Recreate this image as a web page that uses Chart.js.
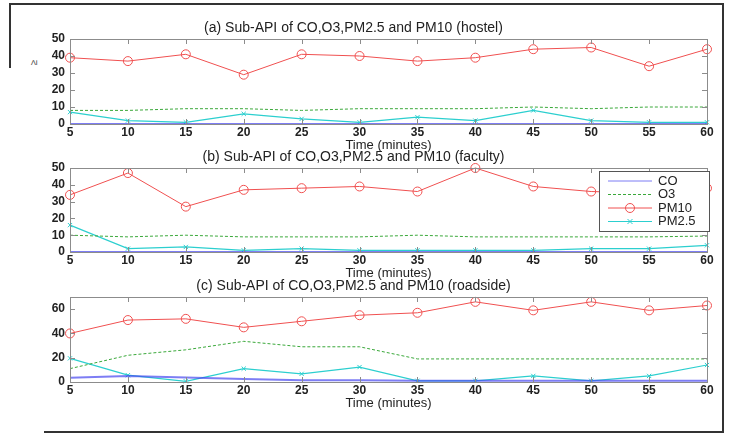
<!DOCTYPE html>
<html>
<head>
<meta charset="utf-8">
<script src="https://cdn.jsdelivr.net/npm/chart.js@4"></script>
<style>
  html, body { margin: 0; padding: 0; background: #fff; }
  body { width: 729px; height: 435px; position: relative; overflow: hidden; }
  canvas { position: absolute; left: 0; }
  .frame { position: absolute; background: #333; }
  .ylab { position: absolute; left: 31px; top: 57px; font: 10px "Liberation Sans", Arial, sans-serif;
          color: #444; transform: rotate(-90deg); }
</style>
</head>
<body>
<div class="frame" style="left:9px;top:3px;width:715px;height:2px;"></div>
<div class="frame" style="left:9px;top:3px;width:2px;height:65px;"></div>
<div class="frame" style="left:722px;top:3px;width:2px;height:430px;"></div>
<div class="frame" style="left:44px;top:431px;width:680px;height:2px;"></div>
<div class="ylab">≥</div>

<canvas id="chartA" width="729" height="154" style="top:0px"></canvas>
<canvas id="chartB" width="729" height="142" style="top:140px"></canvas>
<canvas id="chartC" width="729" height="142" style="top:270px"></canvas>

<script>
// time axis (minutes)
const minutes = [5, 10, 15, 20, 25, 30, 35, 40, 45, 50, 55, 60];
const seriesNames = ['CO', 'O3', 'PM10', 'PM2.5'];

// (a) hostel
const hostelCO   = [0, 0, 0, 0, 0, 0, 0, 0, 0, 0, 0, 0];
const hostelO3   = [8, 8, 9, 9, 8, 9, 9, 9, 10, 9, 10, 10];
const hostelPM10 = [39, 37, 41, 29, 41, 40, 37, 39, 44, 45, 34, 44];
const hostelPM25 = [7, 2, 1, 6, 3, 1, 4, 2, 8, 2, 1, 1];

// (b) faculty
const facultyCO   = [0, 0, 0, 0, 0, 0, 0, 0, 0, 0, 0, 0];
const facultyO3   = [10, 9, 10, 9, 9, 9, 10, 9, 9, 9, 9, 9.5];
const facultyPM10 = [34, 47, 27, 37, 38, 39, 36, 50, 39, 36, 35, 38];
const facultyPM25 = [16, 2, 3, 1, 2, 1, 1, 1, 1, 2, 2, 4];

// (c) roadside
const roadCO   = [3.5, 5, 3.8, 2.5, 1.5, 1.4, 1, 1, 1, 1, 1, 1];
const roadO3   = [11, 22, 26.5, 33.5, 29, 29, 19, 19, 19, 19, 19, 19];
const roadPM10 = [40, 51, 52, 45, 50, 55, 57, 66, 59, 66, 59, 63];
const roadPM25 = [19.5, 5.6, 0.6, 11, 6.7, 12.3, 1, 1, 5, 1, 5, 14];

const yTicksAB = [0, 10, 20, 30, 40, 50];
const yTicksC  = [0, 20, 40, 60];

const FONT = '"Liberation Sans", Arial, sans-serif';
const styles = {
  'CO':    { color: 'rgba(70,70,240,0.7)', width: 2, dash: [], point: false, pointRadius: 0 },
  'O3':    { color: '#3aa83a', width: 1, dash: [3, 2], point: false, pointRadius: 0 },
  'PM10':  { color: '#f05050', width: 1, dash: [], point: 'circle', pointRadius: 4.5 },
  'PM2.5': { color: '#2ccfcf', width: 1.2, dash: [], point: 'crossRot', pointRadius: 3 },
};

// box + inward ticks like the original plot
const boxPlugin = {
  id: 'box',
  afterDraw(chart) {
    const { ctx, chartArea: a, scales } = chart;
    ctx.save();
    ctx.strokeStyle = '#8c8c8c';
    ctx.lineWidth = 1;
    ctx.strokeRect(Math.round(a.left) + 0.5, Math.round(a.top) + 0.5,
                   Math.round(a.right - a.left), Math.round(a.bottom - a.top));
    ctx.beginPath();
    scales.x.ticks.forEach((t, i) => {
      const px = Math.round(scales.x.getPixelForTick(i)) + 0.5;
      ctx.moveTo(px, a.top); ctx.lineTo(px, a.top + 5);
      ctx.moveTo(px, a.bottom); ctx.lineTo(px, a.bottom - 5);
    });
    scales.y.ticks.forEach((t, i) => {
      const py = Math.round(scales.y.getPixelForTick(i)) + 0.5;
      ctx.moveTo(a.left, py); ctx.lineTo(a.left + 5, py);
      ctx.moveTo(a.right, py); ctx.lineTo(a.right - 5, py);
    });
    ctx.stroke();
    ctx.restore();
  }
};

// legend box inside the plot (faculty panel)
const boxLegend = {
  id: 'boxLegend',
  afterDraw(chart, args, opts) {
    if (!opts.show) return;
    const { ctx, chartArea: a } = chart;
    const w = 110, h = 60, x = a.right - w + 2, y = a.top + 3;
    ctx.save();
    ctx.fillStyle = '#fff';
    ctx.fillRect(x, y, w, h);
    ctx.strokeStyle = '#555';
    ctx.lineWidth = 1;
    ctx.strokeRect(x + 0.5, y + 0.5, w, h);
    ctx.font = '13px ' + FONT;
    ctx.textBaseline = 'middle';
    chart.data.datasets.forEach((ds, i) => {
      const cy = y + 10 + i * 13.5;
      const st = styles[ds.label];
      ctx.strokeStyle = st.color;
      ctx.lineWidth = 1;
      ctx.setLineDash(st.dash);
      ctx.beginPath();
      ctx.moveTo(x + 9, cy); ctx.lineTo(x + 53, cy);
      ctx.stroke();
      ctx.setLineDash([]);
      const mx = x + 31;
      if (st.point === 'circle') {
        ctx.beginPath(); ctx.arc(mx, cy, 4.5, 0, Math.PI * 2); ctx.stroke();
      } else if (st.point === 'crossRot') {
        ctx.beginPath();
        ctx.moveTo(mx - 2.5, cy - 2.5); ctx.lineTo(mx + 2.5, cy + 2.5);
        ctx.moveTo(mx - 2.5, cy + 2.5); ctx.lineTo(mx + 2.5, cy - 2.5);
        ctx.stroke();
      }
      ctx.fillStyle = '#222';
      ctx.fillText(ds.label, x + 59, cy);
    });
    ctx.restore();
  }
};

function makeDataset(name, values) {
  const st = styles[name];
  return {
    label: name,
    data: minutes.map((m, i) => ({ x: m, y: values[i] })),
    borderColor: st.color,
    backgroundColor: 'transparent',
    borderWidth: st.width,
    borderDash: st.dash,
    pointStyle: st.point,
    pointRadius: st.pointRadius,
    pointBorderColor: st.color,
    pointBorderWidth: 1,
    tension: 0,
  };
}

function makeChart(id, title, values, yMax, yTicks, titleTop, legend) {
  return new Chart(document.getElementById(id), {
    type: 'line',
    data: { datasets: seriesNames.map((n, i) => makeDataset(n, values[i])) },
    options: {
      responsive: false,
      animation: false,
      events: [],
      clip: false,
      layout: { padding: { left: 0, right: 22, top: 0, bottom: 0 } },
      plugins: {
        legend: { display: false },
        tooltip: { enabled: false },
        title: {
          display: true,
          text: title,
          color: '#222',
          font: { family: FONT, size: 14, weight: 'normal', lineHeight: 1 },
          padding: { top: titleTop, bottom: 4 },
        },
        boxLegend: { show: legend },
      },
      scales: {
        x: {
          type: 'linear',
          min: 5, max: 60,
          afterBuildTicks: s => { s.ticks = minutes.map(v => ({ value: v })); },
          grid: { display: false, drawTicks: false },
          border: { display: false },
          ticks: { color: '#222', padding: 3, maxRotation: 0, autoSkip: false,
                   font: { family: FONT, size: 12, weight: 'bold', lineHeight: 1 } },
          title: { display: true, text: 'Time (minutes)', color: '#222',
                   padding: { top: -3, bottom: 2 },
                   font: { family: FONT, size: 13, lineHeight: 1 } },
        },
        y: {
          min: 0, max: yMax,
          afterBuildTicks: s => { s.ticks = yTicks.map(v => ({ value: v })); },
          afterFit: s => { s.width = 70; },
          grid: { display: false, drawTicks: false },
          border: { display: false },
          ticks: { color: '#222', padding: 5,
                   font: { family: FONT, size: 12, weight: 'bold', lineHeight: 1 } },
        },
      },
    },
    plugins: [boxPlugin, boxLegend],
  });
}

makeChart('chartA', '(a) Sub-API of CO,O3,PM2.5 and PM10 (hostel)',
  [hostelCO, hostelO3, hostelPM10, hostelPM25], 50, yTicksAB, 21, false);
makeChart('chartB', '(b) Sub-API of CO,O3,PM2.5 and PM10 (faculty)',
  [facultyCO, facultyO3, facultyPM10, facultyPM25], 50, yTicksAB, 10, true);
makeChart('chartC', '(c) Sub-API of CO,O3,PM2.5 and PM10 (roadside)',
  [roadCO, roadO3, roadPM10, roadPM25], 70, yTicksC, 9, false);
</script>
</body>
</html>
